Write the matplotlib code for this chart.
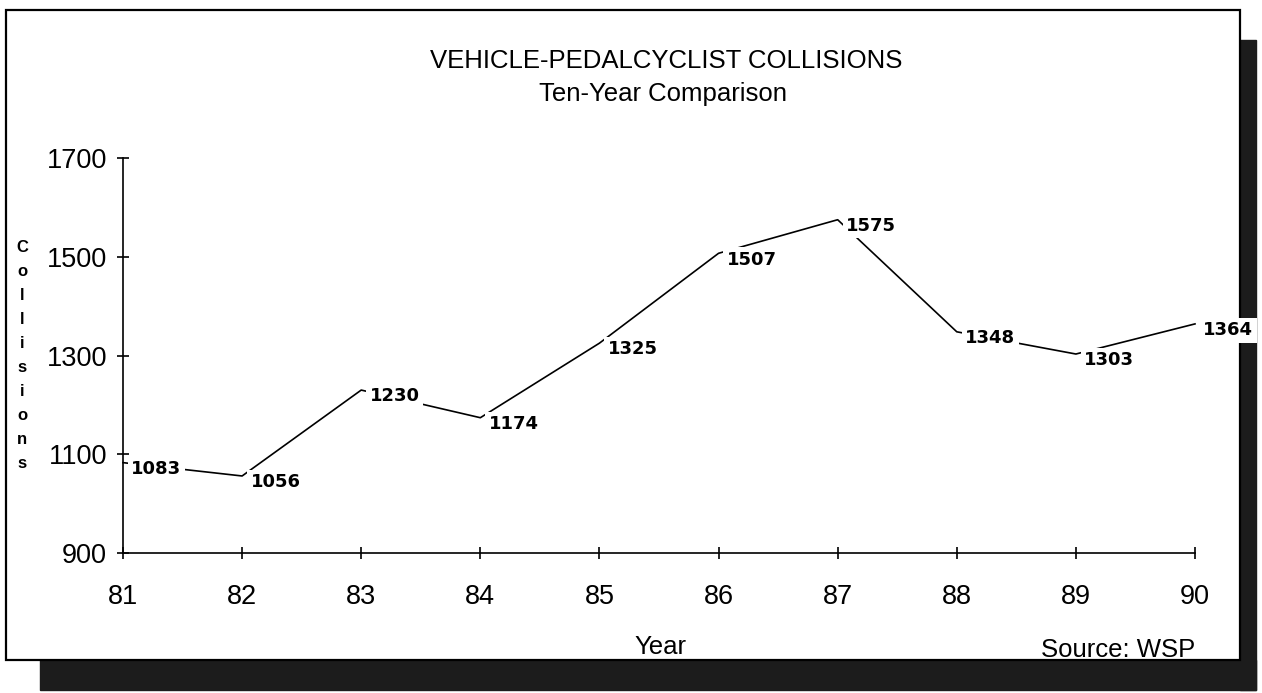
import matplotlib.pyplot as plt
from matplotlib.patches import Rectangle

# data
years = [81, 82, 83, 84, 85, 86, 87, 88, 89, 90]
collisions = [1083, 1056, 1230, 1174, 1325, 1507, 1575, 1348, 1303, 1364]
y_ticks = [900, 1100, 1300, 1500, 1700]

plt.rcParams['font.family'] = ['Liberation Sans', 'DejaVu Sans']

W, H = 1262, 693
fig = plt.figure(figsize=(W / 100, H / 100), dpi=100)


def fx(px):
    return px / W


def fy(py):
    return 1 - py / H


# frame + shadow (behind the axes)
fig.patches.append(Rectangle((fx(40), fy(690)), fx(1256) - fx(40), fy(660) - fy(690),
                             transform=fig.transFigure, color='#1c1c1c', zorder=-3))
fig.patches.append(Rectangle((fx(1240), fy(690)), fx(1256) - fx(1240), fy(40) - fy(690),
                             transform=fig.transFigure, color='#1c1c1c', zorder=-3))
fig.patches.append(Rectangle((fx(6), fy(660)), fx(1240) - fx(6), fy(10) - fy(660),
                             transform=fig.transFigure, facecolor='white', edgecolor='black',
                             linewidth=1.6, zorder=-2))

ax = fig.add_axes([fx(123), fy(553), fx(1195) - fx(123), fy(158) - fy(553)])
ax.set_facecolor('none')
ax.plot(years, collisions, color='black', linewidth=1.2, zorder=2, clip_on=False)

# value labels sit just right of each point, white box hides the line under them
for x, y in zip(years, collisions):
    ax.annotate(str(y), (x, y), xytext=(6, -4.5), textcoords='offset points',
                ha='left', va='center', fontsize=13, fontweight='bold',
                family='DejaVu Sans',
                bbox=dict(facecolor='white', edgecolor='none', pad=2.5),
                zorder=3, annotation_clip=False)

ax.set_xlim(81, 90)
ax.set_ylim(900, 1700)
ax.set_xticks(years)
ax.set_xticklabels([str(y) for y in years])
ax.set_yticks(y_ticks)
for s in ['top', 'right']:
    ax.spines[s].set_visible(False)
for s in ['left', 'bottom']:
    ax.spines[s].set_linewidth(1.2)
ax.tick_params(axis='both', direction='inout', length=9, width=1.2, labelsize=19.5)
ax.tick_params(axis='x', pad=18)
ax.tick_params(axis='y', pad=7)

fig.text(fx(666), fy(61), 'VEHICLE-PEDALCYCLIST COLLISIONS', ha='center', va='center',
         fontsize=18.5)
fig.text(fx(663), fy(94), 'Ten-Year Comparison', ha='center', va='center', fontsize=18.5)
fig.text(fx(660), fy(647), 'Year', ha='center', va='center', fontsize=18.5)
fig.text(fx(1195), fy(650), 'Source: WSP', ha='right', va='center', fontsize=18.5)
fig.text(fx(22), fy(355), '\n'.join('Collisions'), ha='center', va='center',
         fontsize=12, fontweight='bold', linespacing=1.75)

fig.savefig('out.png', dpi=100)
